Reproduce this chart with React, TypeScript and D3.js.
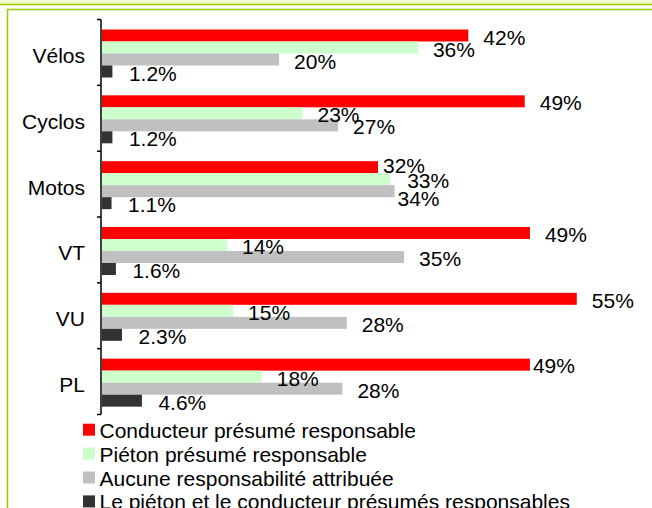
import React from "react";
import * as d3 from "d3";

const categories = ["Vélos", "Cyclos", "Motos", "VT", "VU", "PL"];
const conducteur = [42.2, 48.7, 31.8, 49.3, 54.7, 49.3];
const pieton = [36.4, 23.1, 33.2, 14.4, 15.1, 18.4];
const aucune = [20.4, 27.2, 33.7, 34.8, 28.2, 27.7];
const lesDeux = [1.2, 1.2, 1.1, 1.6, 2.3, 4.6];
const seriesNames = [
  "Conducteur présumé responsable",
  "Piéton présumé responsable",
  "Aucune responsabilité attribuée",
  "Le piéton et le conducteur présumés responsables",
];
const seriesValues = [conducteur, pieton, aucune, lesDeux];
const colors = ["#ff0000", "#ccffcc", "#c0c0c0", "#333333"];

// manual label nudges (as in the original, where overlapping labels were moved)
const labelNudges = [
  { cat: "Motos", s: 0, dx: -10, dy: -3 },
  { cat: "Motos", s: 1, dx: 2, dy: 0 },
  { cat: "Motos", s: 2, dx: -12, dy: 5.5 },
  { cat: "PL", s: 0, dx: -12, dy: -1 },
];

const W = 652;
const H = 508;
const FONT = "'Liberation Sans', Arial, Helvetica, sans-serif";
const FS = 21;

export default function App() {
  const x = d3.scaleLinear().domain([0, 60]).range([102, 102 + 60 * 8.68]);
  const y = d3.scaleBand().domain(categories).range([19.5, 414.5]).padding(0);
  const bw = y.bandwidth();
  const barH = 12;
  const groupOff = 10;
  const fmt = (v: number) => (v < 10 ? d3.format(".1f")(v) : d3.format(".0f")(v)) + "%";
  const axisX = 101;

  return (
    <svg
      width={W}
      height={H}
      style={{ position: "fixed", left: 0, top: 0, background: "#fff" }}
      fontFamily={FONT}
    >
      {/* frame */}
      <rect x={0} y={0} width={W} height={4} fill="#eeffcc" />
      <line x1={0} x2={W} y1={4.5} y2={4.5} stroke="#99cc00" strokeWidth={1.5} />
      <line x1={7} x2={W} y1={9.5} y2={9.5} stroke="#99cc00" strokeWidth={1.5} />
      <line x1={7.5} x2={7.5} y1={9} y2={H} stroke="#99cc00" strokeWidth={1.5} />

      {/* bars */}
      {categories.map((c, ci) =>
        seriesValues.map((vals, si) => {
          const v = vals[ci];
          const y0 = (y(c) as number) + groupOff + si * barH;
          return (
            <rect
              key={c + si}
              x={x(0)}
              y={y0}
              width={x(v) - x(0)}
              height={barH}
              fill={colors[si]}
            />
          );
        })
      )}

      {/* axis */}
      <line x1={axisX} x2={axisX} y1={19.5} y2={414.5} stroke="#000" strokeWidth={1.5} />
      {d3.range(categories.length + 1).map((i) => {
        const ty = 19.5 + i * bw;
        return <line key={i} x1={97} x2={axisX} y1={ty} y2={ty} stroke="#000" strokeWidth={1.5} />;
      })}
      {categories.map((c) => (
        <text
          key={c}
          x={85}
          y={(y(c) as number) + bw / 2 + 3 + 7.5}
          textAnchor="end"
          fontSize={FS}
          fill="#000"
        >
          {c}
        </text>
      ))}

      {/* labels */}
      {categories.map((c, ci) =>
        seriesValues.map((vals, si) => {
          const v = vals[ci];
          const nudge = labelNudges.find((n) => n.cat === c && n.s === si);
          const cy = (y(c) as number) + groupOff + si * barH + barH / 2 + 1.5 + (nudge ? nudge.dy : 0);
          const lx = x(v) + (si === 3 ? 16.5 : 15) + (nudge ? nudge.dx : 0);
          return (
            <text key={"l" + c + si} x={lx} y={cy + 7.5} fontSize={FS} fill="#000">
              {fmt(v)}
            </text>
          );
        })
      )}

      {/* legend */}
      {seriesNames.map((n, i) => {
        const cy = 429.7 + i * 23.9;
        return (
          <g key={n}>
            <rect x={83} y={cy - 6} width={12} height={12} fill={colors[i]} />
            <text x={99.5} y={cy + 8} fontSize={FS} fill="#000">
              {n}
            </text>
          </g>
        );
      })}
    </svg>
  );
}
